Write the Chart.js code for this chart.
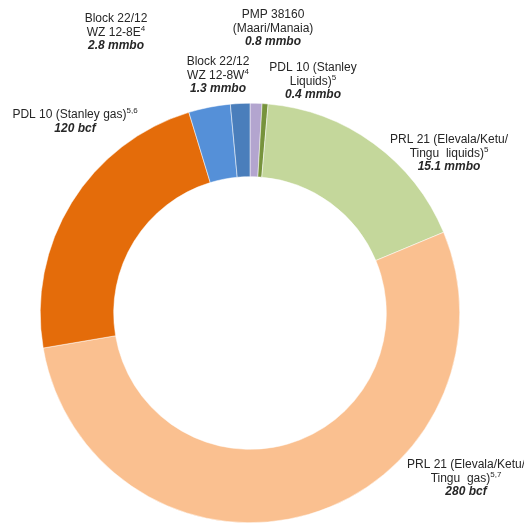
<!DOCTYPE html>
<html>
<head>
<meta charset="utf-8">
<script src="https://cdn.jsdelivr.net/npm/chart.js@4"></script>
<style>
  body { margin: 0; background: #fff; }
</style>
</head>
<body>
<canvas id="myChart" width="524" height="525"></canvas>
<script>
// slices clockwise from 12 o'clock, sized in mmboe (gas bcf / 6)
const fields = ['PMP 38160', 'PDL 10 liquids', 'PRL 21 liquids', 'PRL 21 gas', 'PDL 10 gas', 'WZ 12-8E', 'WZ 12-8W']
const mmboe = [0.8, 0.4, 15.1, 46.7, 20, 2.8, 1.3]
const colours = ['#b3a5cf', '#77933c', '#c4d79b', '#fac090', '#e46c0a', '#5590d8', '#4a7ebb']

// label blocks: each line is [text, superscript]; last line is bold italic
const labels = [
    { x: 273, y: 15, lines: [['PMP 38160', ''], ['(Maari/Manaia)', ''], ['0.8 mmbo', '']] },
    { x: 218, y: 62, lines: [['Block 22/12', ''], ['WZ 12-8W', '4'], ['1.3 mmbo', '']] },
    { x: 313, y: 68, lines: [['PDL 10 (Stanley', ''], ['Liquids)', '5'], ['0.4 mmbo', '']] },
    { x: 116, y: 19, lines: [['Block 22/12', ''], ['WZ 12-8E', '4'], ['2.8 mmbo', '']] },
    { x: 75, y: 115, lines: [['PDL 10 (Stanley gas)', '5,6'], ['120 bcf', '']] },
    { x: 449, y: 140, lines: [['PRL 21 (Elevala/Ketu/', ''], ['Tingu  liquids)', '5'], ['15.1 mmbo', '']] },
    { x: 466, y: 465, lines: [['PRL 21 (Elevala/Ketu/', ''], ['Tingu  gas)', '5,7'], ['280 bcf', '']] }
]

const labelPlugin = {
    id: 'fieldLabels',
    afterDraw(chart) {
        const ctx = chart.ctx
        ctx.save()
        ctx.fillStyle = '#262626'
        ctx.textBaseline = 'middle'
        labels.forEach((lb) => {
            lb.lines.forEach((ln, i) => {
                const last = i === lb.lines.length - 1 && i > 0 && ln[1] === '' && /mmbo|bcf/.test(ln[0])
                const font = last ? 'italic bold 12px "Liberation Sans", Arial' : '12px "Liberation Sans", Arial'
                ctx.font = font
                const w = ctx.measureText(ln[0]).width
                ctx.font = '8px "Liberation Sans", Arial'
                const sw = ln[1] ? ctx.measureText(ln[1]).width : 0
                const left = lb.x - (w + sw) / 2
                const y = lb.y + i * 13.3
                ctx.textAlign = 'left'
                ctx.font = font
                ctx.fillText(ln[0], left, y)
                if (ln[1]) {
                    ctx.font = '8px "Liberation Sans", Arial'
                    ctx.fillText(ln[1], left + w, y - 4)
                }
            })
        })
        ctx.restore()
    }
}

const graph = document.getElementById('myChart')
new Chart(graph, {
    type: 'doughnut',
    data: {
        labels: fields,
        datasets: [{
            data: mmboe,
            backgroundColor: colours,
            borderColor: '#ffffff',
            borderWidth: 0.5
        }]
    },
    options: {
        responsive: false,
        animation: false,
        cutout: '65%',
        layout: { padding: { left: 40, right: 64, top: 103, bottom: 2 } },
        plugins: {
            legend: { display: false },
            tooltip: { enabled: false }
        }
    },
    plugins: [labelPlugin]
})
</script>
</body>
</html>
